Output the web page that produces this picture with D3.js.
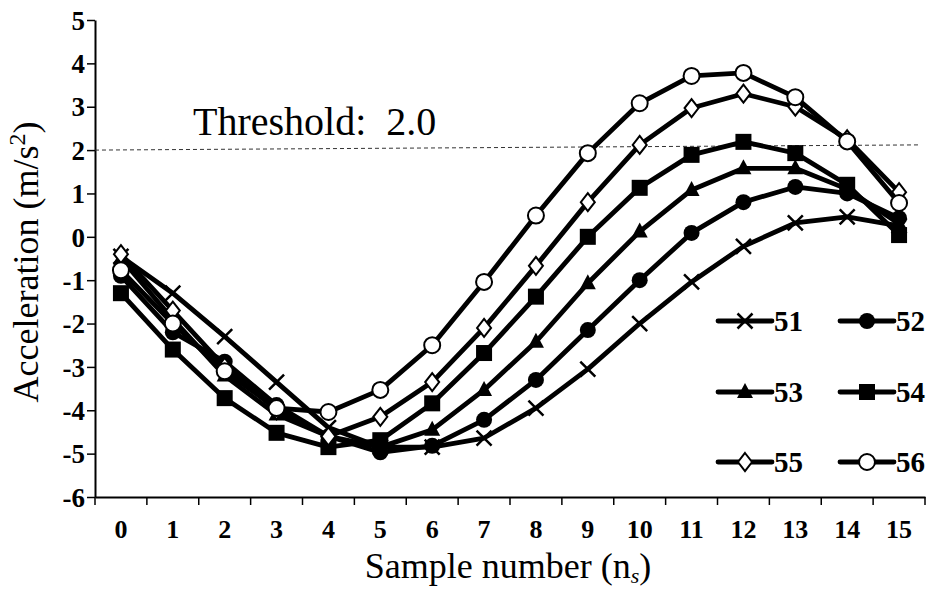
<!DOCTYPE html>
<html><head><meta charset="utf-8">
<script src="https://cdn.jsdelivr.net/npm/d3@7"></script>
<style>body{margin:0;background:#fff}svg{display:block}</style>
</head><body>
<script>
const categories = d3.range(0,16).map(String);
const yTicks = [-6,-5,-4,-3,-2,-1,0,1,2,3,4,5];
const threshold = 2.0;
const thresholdEnds = [2.0, 2.12];
const s51 = [-0.45,-1.3,-2.3,-3.35,-4.4,-4.85,-4.85,-4.64,-3.95,-3.05,-2.0,-1.04,-0.22,0.32,0.46,0.25];
const s52 = [-0.9,-2.2,-2.88,-3.88,-4.6,-4.97,-4.82,-4.22,-3.3,-2.15,-1.0,0.09,0.8,1.15,1.0,0.43];
const s53 = [-0.5,-1.9,-3.2,-4.1,-4.6,-4.85,-4.45,-3.53,-2.42,-1.07,0.12,1.08,1.58,1.58,1.1,0.3];
const s54 = [-1.3,-2.6,-3.72,-4.52,-4.85,-4.69,-3.84,-2.68,-1.38,0.0,1.13,1.89,2.19,1.93,1.2,0.04];
const s55 = [-0.4,-1.7,-3.0,-4.0,-4.6,-4.15,-3.35,-2.1,-0.67,0.8,2.12,2.97,3.3,3.0,2.25,1.03];
const s56 = [-0.77,-2.0,-3.1,-3.95,-4.04,-3.53,-2.5,-1.04,0.49,1.93,3.08,3.71,3.78,3.22,2.2,0.78];
const seriesNames = ["51","52","53","54","55","56"];
const seriesValues = [s51,s52,s53,s54,s55,s56];
const markerTypes = ["cross","circle","triangle","square","diamond","ocircle"];

const W=931,H=589;
const svg=d3.select("body").append("svg").attr("width",W).attr("height",H);
const x=d3.scaleBand().domain(categories).range([95,925]).padding(0);
const y=d3.scaleLinear().domain([-6,5]).range([497,20]);
const serif="'Liberation Serif','Times New Roman',serif";

// axes
const xAxis=d3.axisBottom(x).tickSize(0).tickFormat(d=>d);
const gx=svg.append("g").attr("transform","translate(0,497)").call(xAxis);
gx.select(".domain").attr("stroke","#000").attr("stroke-width",2);
gx.selectAll(".tick text").attr("dy",0).attr("y",41).attr("font-family",serif).attr("font-size",26).attr("font-weight","bold").attr("fill","#000");
svg.append("g").selectAll("line").data(categories.concat(["end"])).join("line")
  .attr("x1",(d,i)=>95+i*x.bandwidth()).attr("x2",(d,i)=>95+i*x.bandwidth())
  .attr("y1",497).attr("y2",505).attr("stroke","#000").attr("stroke-width",1.5);

const gy=svg.append("g").attr("transform","translate(95,0)").call(d3.axisLeft(y).tickValues(yTicks).tickSize(8).tickSizeOuter(0).tickFormat(d3.format("d")));
gy.select(".domain").attr("stroke","#000").attr("stroke-width",2);
gy.selectAll(".tick line").attr("stroke","#000").attr("stroke-width",1.5);
gy.selectAll(".tick text").attr("x",-10).attr("dy","0.34em").attr("font-family",serif).attr("font-size",27).attr("font-weight","bold").attr("fill","#000").text(d=>d<0?"-"+Math.abs(d):d);

// titles
svg.append("text").attr("transform","translate(38,262) rotate(-90)").attr("text-anchor","middle")
  .attr("font-family",serif).attr("font-size",36).attr("fill","#000")
  .html('Acceleration (m/s<tspan dy="-13" font-size="24">2</tspan><tspan dy="13">)</tspan>');
svg.append("text").attr("x",508).attr("y",578).attr("text-anchor","middle")
  .attr("font-family",serif).attr("font-size",36).attr("fill","#000")
  .html('Sample number (n<tspan dy="5" font-size="22" font-style="italic">s</tspan><tspan dy="-5">)</tspan>');

// threshold
svg.append("line").attr("x1",95).attr("x2",920).attr("y1",y(thresholdEnds[0])).attr("y2",y(thresholdEnds[1]))
  .attr("stroke","#333").attr("stroke-width",1).attr("stroke-dasharray","4,3");
svg.append("text").attr("x",193).attr("y",135).attr("font-family",serif).attr("font-size",40).attr("fill","#000")
  .style("white-space","pre").text("Threshold:  "+threshold.toFixed(1));

function drawMarker(g,type,cx,cy){
  if(type==="cross"){
    const s=7.5;
    g.append("path").attr("d",`M${cx-s},${cy-s}L${cx+s},${cy+s}M${cx-s},${cy+s}L${cx+s},${cy-s}`).attr("stroke","#000").attr("stroke-width",2.5).attr("fill","none");
  } else if(type==="circle"){
    g.append("circle").attr("cx",cx).attr("cy",cy).attr("r",8).attr("fill","#000");
  } else if(type==="ocircle"){
    g.append("circle").attr("cx",cx).attr("cy",cy).attr("r",8).attr("fill","#fff").attr("stroke","#000").attr("stroke-width",2);
  } else if(type==="square"){
    g.append("rect").attr("x",cx-8).attr("y",cy-8).attr("width",16).attr("height",16).attr("fill","#000");
  } else if(type==="triangle"){
    g.append("path").attr("d",`M${cx},${cy-9}L${cx+8},${cy+6}L${cx-8},${cy+6}Z`).attr("fill","#000");
  } else if(type==="diamond"){
    g.append("path").attr("d",`M${cx},${cy-9}L${cx+7},${cy}L${cx},${cy+9}L${cx-7},${cy}Z`).attr("fill","#fff").attr("stroke","#000").attr("stroke-width",2);
  }
}

const line=d3.line().x((d,i)=>x(categories[i])+x.bandwidth()/2).y(d=>y(d));
seriesValues.forEach((vals,k)=>{
  const g=svg.append("g");
  g.append("path").datum(vals).attr("d",line).attr("fill","none").attr("stroke","#000").attr("stroke-width",4.8).attr("stroke-linejoin","round");
  vals.forEach((v,i)=>drawMarker(g,markerTypes[k],x(categories[i])+x.bandwidth()/2,y(v)));
});

// legend
const legX=[718,840], legY=[321,392,462];
seriesNames.forEach((name,k)=>{
  const col=k%2,row=Math.floor(k/2);
  const lx=legX[col],ly=legY[row];
  const g=svg.append("g");
  g.append("line").attr("x1",lx).attr("x2",lx+54).attr("y1",ly).attr("y2",ly).attr("stroke","#000").attr("stroke-width",4.8).attr("stroke-linecap","round");
  drawMarker(g,markerTypes[k],lx+27,ly);
  g.append("text").attr("x",lx+56).attr("y",ly+10).attr("font-family",serif).attr("font-size",29).attr("font-weight","bold").attr("fill","#000").text(name);
});
</script>
</body></html>
